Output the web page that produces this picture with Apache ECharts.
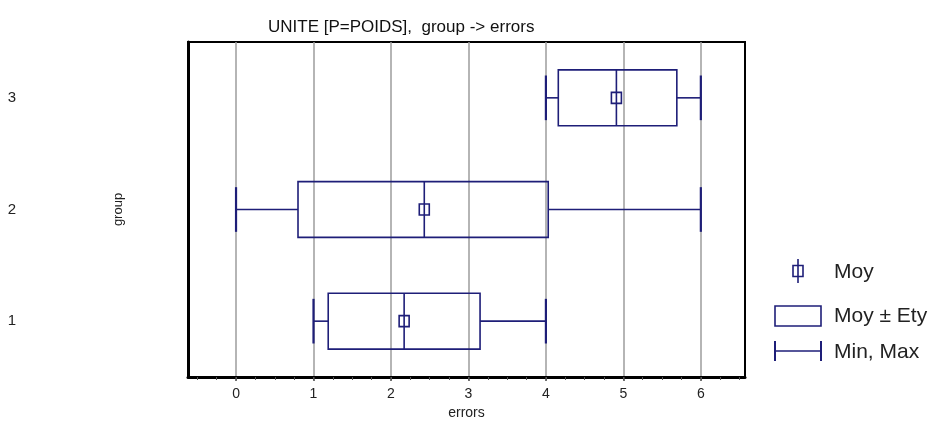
<!DOCTYPE html>
<html>
<head>
<meta charset="utf-8">
<script src="https://cdn.jsdelivr.net/npm/echarts@6/dist/echarts.min.js"></script>
<style>
html,body{margin:0;padding:0;background:#fff;}
#chart{width:945px;height:437px;}
</style>
</head>
<body>
<div id="chart"></div>
<script>
// ---- data ----
const groups   = [1, 2, 3];
const minVals  = [1.00, 0.00, 4.00];   // Min
const lowVals  = [1.19, 0.80, 4.16];   // Moy - Ety
const meanVals = [2.17, 2.43, 4.91];   // Moy
const highVals = [3.15, 4.03, 5.69];   // Moy + Ety
const maxVals  = [4.00, 6.00, 6.00];   // Max
const xTickValues  = [0, 1, 2, 3, 4, 5, 6];
const xMinorValues = [-0.5, -0.25, 0, 0.25, 0.5, 0.75, 1, 1.25, 1.5, 1.75, 2, 2.25, 2.5, 2.75, 3, 3.25, 3.5, 3.75, 4, 4.25, 4.5, 4.75, 5, 5.25, 5.5, 5.75, 6, 6.25, 6.5];
const yTickValues  = [1, 2, 3];
const titleText = 'UNITE [P=POIDS],  group -> errors';
const legendNames = ['Moy', 'Moy \u00b1 Ety', 'Min, Max'];

const NAVY = '#1e1e78';
const rows = groups.map((g, i) => [g, minVals[i], lowVals[i], meanVals[i], highVals[i], maxVals[i]]);

const BOX_HALF = 0.25, CAP_HALF = 0.2;

function whiskerItem(params, api) {
  const y = api.value(0);
  const pMin = api.coord([api.value(1), y]);
  const pLow = api.coord([api.value(2), y]);
  const pHigh = api.coord([api.value(4), y]);
  const pMax = api.coord([api.value(5), y]);
  const capH = api.size([0, CAP_HALF])[1];
  const st = {stroke: NAVY, lineWidth: 1.6, fill: null};
  return {type: 'group', children: [
    {type: 'line', shape: {x1: pMin[0], y1: pMin[1], x2: pLow[0], y2: pLow[1]}, style: st},
    {type: 'line', shape: {x1: pHigh[0], y1: pHigh[1], x2: pMax[0], y2: pMax[1]}, style: st},
    {type: 'line', shape: {x1: pMin[0], y1: pMin[1] - capH, x2: pMin[0], y2: pMin[1] + capH}, style: {stroke: NAVY, lineWidth: 2.2}},
    {type: 'line', shape: {x1: pMax[0], y1: pMax[1] - capH, x2: pMax[0], y2: pMax[1] + capH}, style: {stroke: NAVY, lineWidth: 2.2}}
  ]};
}
function boxItem(params, api) {
  const y = api.value(0);
  const pLow = api.coord([api.value(2), y]);
  const pHigh = api.coord([api.value(4), y]);
  const h = api.size([0, BOX_HALF])[1];
  return {type: 'rect', shape: {x: pLow[0], y: pLow[1] - h, width: pHigh[0] - pLow[0], height: 2 * h},
    style: {stroke: NAVY, lineWidth: 1.6, fill: null}};
}
function meanItem(params, api) {
  const y = api.value(0);
  const p = api.coord([api.value(3), y]);
  const h = api.size([0, BOX_HALF])[1];
  const st = {stroke: NAVY, lineWidth: 1.6, fill: null};
  return {type: 'group', children: [
    {type: 'line', shape: {x1: p[0], y1: p[1] - h, x2: p[0], y2: p[1] + h}, style: st},
    {type: 'rect', shape: {x: p[0] - 5, y: p[1] - 5.5, width: 10, height: 11}, style: st}
  ]};
}

const chart = echarts.init(document.getElementById('chart'), null, {renderer: 'canvas'});
const FONT = 'Liberation Sans, Arial, sans-serif';
const lgX = 775, lgTextX = 834, LG_FS = 21;
chart.setOption({
  animation: false,
  backgroundColor: '#fff',
  title: {text: titleText, left: 263, top: 14,
    textStyle: {fontFamily: FONT, fontSize: 17, fontWeight: 'normal', color: '#111'}},
  grid: {left: 188, right: 200, top: 42, bottom: 60, show: true, borderColor: '#000', borderWidth: 2,
    containLabel: false, outerBoundsMode: 'none'},
  xAxis: [{
    type: 'value', min: -0.62, max: 6.57, position: 'bottom',
    name: 'errors', nameLocation: 'middle', nameGap: 29, nameMoveOverlap: false,
    nameTextStyle: {fontFamily: FONT, fontSize: 14, color: '#222'},
    axisLine: {show: true, onZero: false, lineStyle: {color: '#000', width: 3}},
    axisTick: {show: true, customValues: xTickValues, length: 4, lineStyle: {color: '#444', width: 1.5}},
    axisLabel: {customValues: xTickValues, margin: 10, fontFamily: FONT, fontSize: 14, color: '#222'},
    splitLine: {show: true, lineStyle: {color: '#9c9c9c', width: 1.5}}
  }, {
    type: 'value', min: -0.62, max: 6.57, position: 'bottom', gridIndex: 0,
    axisLine: {show: false},
    axisTick: {show: true, customValues: xMinorValues, length: 3, lineStyle: {color: '#555', width: 1}},
    axisLabel: {show: false},
    splitLine: {show: false}
  }],
  yAxis: {
    type: 'value', min: 0.5, max: 3.5,
    name: 'group', nameLocation: 'middle', nameRotate: 90, nameGap: 63, nameMoveOverlap: false,
    nameTextStyle: {fontFamily: FONT, fontSize: 13, color: '#222'},
    axisLine: {show: true, onZero: false, lineStyle: {color: '#000', width: 3}},
    axisTick: {show: false},
    axisLabel: {customValues: yTickValues, margin: 172, fontFamily: FONT, fontSize: 15, color: '#222'},
    splitLine: {show: false}
  },
  series: [
    {name: legendNames[2], type: 'custom', renderItem: whiskerItem, data: rows, encode: {x: [1, 2, 4, 5], y: 0}, z: 3},
    {name: legendNames[1], type: 'custom', renderItem: boxItem, data: rows, encode: {x: [2, 4], y: 0}, z: 4},
    {name: legendNames[0], type: 'custom', renderItem: meanItem, data: rows, encode: {x: [3], y: 0}, z: 5}
  ],
  graphic: [
    {type: 'line', shape: {x1: 798, y1: 259, x2: 798, y2: 283}, style: {stroke: NAVY, lineWidth: 1.6}},
    {type: 'rect', shape: {x: 793, y: 265.5, width: 10, height: 11}, style: {stroke: NAVY, lineWidth: 1.6, fill: null}},
    {type: 'text', x: lgTextX, y: 272, style: {text: legendNames[0], fontFamily: FONT, fontSize: LG_FS, fill: '#222', verticalAlign: 'middle'}},
    {type: 'rect', shape: {x: lgX, y: 306, width: 46, height: 20}, style: {stroke: NAVY, lineWidth: 1.6, fill: null}},
    {type: 'text', x: lgTextX, y: 316, style: {text: legendNames[1], fontFamily: FONT, fontSize: LG_FS, fill: '#222', verticalAlign: 'middle'}},
    {type: 'line', shape: {x1: lgX, y1: 351, x2: lgX + 46, y2: 351}, style: {stroke: NAVY, lineWidth: 1.6}},
    {type: 'line', shape: {x1: lgX, y1: 341, x2: lgX, y2: 361}, style: {stroke: NAVY, lineWidth: 2}},
    {type: 'line', shape: {x1: lgX + 46, y1: 341, x2: lgX + 46, y2: 361}, style: {stroke: NAVY, lineWidth: 2}},
    {type: 'text', x: lgTextX, y: 352, style: {text: legendNames[2], fontFamily: FONT, fontSize: LG_FS, fill: '#222', verticalAlign: 'middle'}}
  ]
});
</script>
</body>
</html>
